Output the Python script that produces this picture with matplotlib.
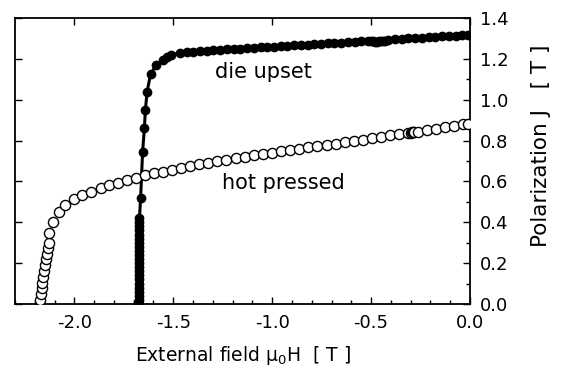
import matplotlib
matplotlib.use('Agg')
import matplotlib.pyplot as plt
from matplotlib.ticker import MultipleLocator

plt.rcParams['font.family'] = 'DejaVu Sans'
plt.rcParams['mathtext.fontset'] = 'dejavusans'

# die upset sample (filled circles)
du_H = [-1.676, -1.676, -1.675, -1.675, -1.675, -1.674, -1.674, -1.674, -1.674, -1.674,
        -1.673, -1.673, -1.673, -1.673, -1.673, -1.673, -1.672, -1.672, -1.672, -1.672,
        -1.672, -1.672, -1.671,
        -1.665, -1.655, -1.646, -1.641, -1.632, -1.615, -1.586, -1.552, -1.530, -1.509,
        -1.467, -1.433, -1.399, -1.365, -1.331, -1.297, -1.263, -1.229, -1.195, -1.161,
        -1.127, -1.093, -1.059, -1.025, -0.991, -0.957, -0.923, -0.889, -0.855, -0.821,
        -0.787, -0.753, -0.719, -0.685, -0.651, -0.617, -0.583, -0.549, -0.515, -0.500,
        -0.490, -0.480, -0.470, -0.460, -0.450, -0.440, -0.430, -0.413, -0.379, -0.345,
        -0.311, -0.277, -0.243, -0.209, -0.175, -0.141, -0.107, -0.073, -0.039, -0.008]
du_J = [0.00, 0.01, 0.02, 0.04, 0.06, 0.08, 0.10, 0.12, 0.14, 0.16,
        0.18, 0.20, 0.22, 0.24, 0.26, 0.28, 0.30, 0.32, 0.34, 0.36,
        0.38, 0.40, 0.42,
        0.517, 0.745, 0.860, 0.950, 1.040, 1.124, 1.170, 1.194, 1.208, 1.219,
        1.230, 1.233, 1.235, 1.237, 1.240, 1.242, 1.244, 1.246, 1.248, 1.250,
        1.252, 1.254, 1.256, 1.258, 1.260, 1.262, 1.264, 1.266, 1.268, 1.270,
        1.272, 1.274, 1.276, 1.278, 1.280, 1.282, 1.284, 1.286, 1.288, 1.289,
        1.285, 1.284, 1.284, 1.285, 1.286, 1.287, 1.289, 1.294, 1.296, 1.298,
        1.300, 1.302, 1.304, 1.306, 1.308, 1.310, 1.312, 1.314, 1.316, 1.318]

# hot pressed sample (open circles)
hp_H = [-2.172, -2.169, -2.164, -2.161, -2.156, -2.152, -2.147, -2.143, -2.138, -2.133,
        -2.128, -2.130, -2.110, -2.079, -2.045, -2.003, -1.960, -1.914, -1.866, -1.824,
        -1.778, -1.735, -1.690, -1.645, -1.599, -1.553, -1.507, -1.461, -1.415, -1.369,
        -1.323, -1.277, -1.231, -1.185, -1.139, -1.093, -1.047, -1.001, -0.955, -0.909,
        -0.863, -0.817, -0.771, -0.725, -0.679, -0.633, -0.587, -0.541, -0.495, -0.449,
        -0.403, -0.357, -0.311, -0.300, -0.295, -0.290, -0.285, -0.265, -0.219, -0.173,
        -0.127, -0.081, -0.035, -0.010]
hp_J = [0.020, 0.049, 0.077, 0.104, 0.134, 0.163, 0.191, 0.219, 0.245, 0.273,
        0.297, 0.346, 0.403, 0.449, 0.485, 0.512, 0.534, 0.550, 0.566, 0.582,
        0.594, 0.606, 0.617, 0.630, 0.639, 0.648, 0.657, 0.666, 0.675, 0.684,
        0.692, 0.699, 0.706, 0.713, 0.720, 0.727, 0.734, 0.741, 0.748, 0.755,
        0.761, 0.767, 0.773, 0.779, 0.785, 0.791, 0.797, 0.804, 0.811, 0.818,
        0.825, 0.832, 0.838, 0.839, 0.840, 0.841, 0.842, 0.844, 0.851, 0.858,
        0.865, 0.872, 0.879, 0.882]

fig = plt.figure(figsize=(5.61, 3.69), dpi=100)
ax = fig.add_axes([15 / 561, 1 - 304 / 369, 455 / 561, 286 / 369])

ax.plot(du_H, du_J, '-', color='black', lw=2.2, zorder=2)
ax.plot(du_H, du_J, 'o', color='black', ms=6, zorder=3)
ax.plot(hp_H, hp_J, 'o', mfc='white', mec='black', mew=1.0, ms=7.3, zorder=4)

ax.text(-1.29, 1.136, 'die upset', fontsize=15, va='center', ha='left')
ax.text(-1.254, 0.592, 'hot pressed', fontsize=15, va='center', ha='left')

ax.set_xlim(-2.3, 0.0)
ax.set_ylim(0.0, 1.4)
ax.xaxis.set_major_locator(MultipleLocator(0.5))
ax.xaxis.set_minor_locator(MultipleLocator(0.1))
ax.yaxis.set_major_locator(MultipleLocator(0.2))
ax.yaxis.set_minor_locator(MultipleLocator(0.1))
ax.xaxis.set_major_formatter(plt.FuncFormatter(lambda v, p: '%.1f' % v if abs(v) > 1e-9 else '0.0'))

ax.tick_params(which='both', direction='in', top=True, right=True,
               labelleft=False, labelright=True, labelsize=13, width=1)
ax.tick_params(which='major', length=5, pad=7)
ax.tick_params(which='minor', length=3, left=False, top=False)
for s in ax.spines.values():
    s.set_linewidth(1.3)

ax.set_xlabel('External field $\\mathregular{\\mu_0}$H  [ T ]', fontsize=13.5)
ax.xaxis.set_label_coords(0.5, -0.14)
ax.xaxis.label.set_va('top')
ax.yaxis.set_label_position('right')
ax.set_ylabel('Polarization J   [ T ]', fontsize=15.5)
ax.yaxis.set_label_coords(1.155, 0.555)
ax.yaxis.label.set_va('center')

fig.savefig('out.png', dpi=100)
